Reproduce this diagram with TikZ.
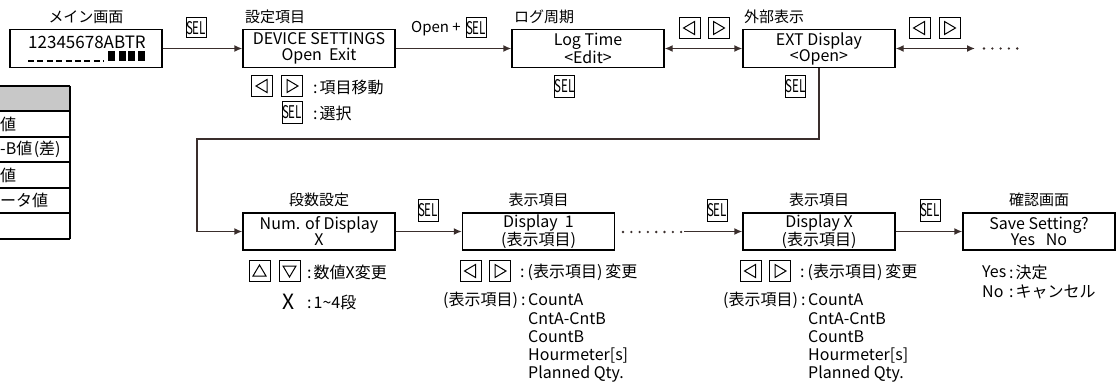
\documentclass[tikz,border=0pt]{standalone}
\usepackage{fontspec}
\setmainfont{Noto Sans CJK JP}
\usetikzlibrary{arrows.meta}
\definecolor{lc}{HTML}{3A2E2C}
\definecolor{hdr}{HTML}{C8C8C8}
\newcommand\fs[1]{\fontsize{#1}{#1}\selectfont}
\newcommand\sel{\scalebox{0.66}[1]{SEL}}
\newcommand\cl{:\kern2pt}
\newcommand\hyo{\kern3pt(表示項目)\kern3pt}
\tikzset{
  scr/.style={draw, line width=1.4pt, minimum width=152pt, minimum height=38pt, inner sep=0pt, align=center, font=\fs{16}},
  scrl/.style={scr, minimum height=37pt},
  ttl/.style={font=\fs{15}, inner sep=0pt},
  conn/.style={line width=1.4pt, draw=lc, -{Latex[length=8pt,width=7pt]}},
  dconn/.style={line width=1.4pt, draw=lc, {Latex[length=8pt,width=7pt]}-{Latex[length=8pt,width=7pt]}},
  selbox/.style={draw, line width=1pt, minimum width=20pt, minimum height=20pt, inner sep=0pt, font=\fs{17.5}},
  btn/.style={draw, line width=1pt, minimum width=21pt, minimum height=21pt, inner sep=0pt},
  note/.style={font=\fs{16}, inner sep=0pt, anchor=west},
  lat/.style={font=\fs{16}, inner sep=0pt, anchor=west},
  tri/.style={line width=1pt, line join=miter},
  dots/.style={line width=2.6pt, line cap=round, dash pattern=on 0pt off 8.3pt, draw=lc},
}
\newcommand\btnL[3]{\node[btn] (#1) at (#2,#3) {};
  \draw[tri] ([shift={(-6,0)}]#1.center) -- ++(11,-6.5) -- ++(0,13) -- cycle;}
\newcommand\btnR[3]{\node[btn] (#1) at (#2,#3) {};
  \draw[tri] ([shift={(6,0)}]#1.center) -- ++(-11,-6.5) -- ++(0,13) -- cycle;}
\newcommand\btnU[3]{\node[btn] (#1) at (#2,#3) {};
  \draw[tri] ([shift={(0,-6)}]#1.center) -- ++(-6.5,11) -- ++(13,0) -- cycle;}
\newcommand\btnD[3]{\node[btn] (#1) at (#2,#3) {};
  \draw[tri] ([shift={(0,6)}]#1.center) -- ++(-6.5,-11) -- ++(13,0) -- cycle;}
\begin{document}
\begin{tikzpicture}[x=1pt,y=-1pt]
\useasboundingbox (0,0) rectangle (1120,385);
% ---------- left table (cut off) ----------
\fill[hdr] (0,86) rectangle (70,111);
\foreach \yy in {86,111,137,162,188,213,239} \draw[line width=1.3pt] (0,\yy) -- (70,\yy);
\draw[line width=1.3pt] (70,86) -- (70,239);
\node[note] (t1) at (0,124) {値};
\node[note] (t2) at (0,149.5) {-B値\kern1.5pt(差)};
\node[note] (t3) at (0,175) {値};
\node[note] (t4) at (0,200.5) {ータ値};
% ---------- top row ----------
\node[scr] (main) at (86,48.5) {};
\node[ttl] (tmain) at (86,17) {メイン画面};
\node[font=\fs{17}, inner sep=0pt] (digits) at (87,42) {12345678ABTR};
\draw[line width=2pt, dash pattern=on 6pt off 3.4pt] (28,61) -- (104,61);
\foreach \xx in {108,118.5,128,137.5} \fill (\xx,51) rectangle ++(7,10);

\node[scr] (set) at (319,48.5) {DEVICE SETTINGS\\Open\ \ Exit};
\node[ttl, anchor=west] (tset) at (245,17) {設定項目};

\node[scr] (log) at (588,48.5) {Log Time\\{<}Edit{>}};
\node[ttl, anchor=west] (tlog) at (514,17) {ログ周期};

\node[scr] (ext) at (819,48.5) {EXT Display\\{<}Open{>}};
\node[ttl, anchor=west] (text) at (744,17) {外部表示};

\draw[conn] (main) -- (set);
\node[selbox] (s1) at (196,28) {\sel};
\draw[conn] (set) -- (log);
\node[font=\fs{15}, inner sep=0pt] (op) at (436,29) {Open +};
\node[selbox] (s2) at (476,28) {\sel};
\draw[dconn] (log) -- (ext);
\btnL{b1}{689.5}{28}\btnR{b2}{718.5}{28}
\coordinate (e1) at (975,48.5);
\draw[dconn] (ext) -- (e1);
\btnL{b3}{919.5}{28}\btnR{b4}{949.5}{28}
\draw[dots] (984,48.5) -- (1020,48.5);

\btnL{b5}{262}{86}\btnR{b6}{292}{86}
\node[note] (n1) at (313,87) {\cl 項目移動};
\node[selbox, minimum height=22pt] (s3) at (292,112.5) {\sel};
\node[note] (n2) at (313,113) {\cl 選択};
\node[selbox, minimum height=22pt] (s4) at (564.5,86.5) {\sel};
\node[selbox, minimum height=22pt] (s5) at (795.5,86.5) {\sel};

% ---------- bottom row ----------
\node[scrl] (num) at (319,231.5) {Num. of Display\\X};
\node[ttl] (tnum) at (319,200) {段数設定};
\node[scrl] (d1) at (538.5,231.5) {Display\ \ 1\\(表示項目)};
\node[ttl] (td1) at (538.5,200) {表示項目};
\node[scrl] (dx) at (819,231.5) {Display X\\(表示項目)};
\node[ttl] (tdx) at (819,200) {表示項目};
\node[scrl] (sv) at (1039,231.5) {Save Setting?\\Yes\ \ \ No};
\node[ttl] (tsv) at (1039,200) {確認画面};

\coordinate (k1) at (819,139);
\coordinate (k2) at (197,139);
\coordinate (k3) at (197,231.5);
\draw[line width=1.4pt, draw=lc] (ext.south) -- (k1) -- (k2) -- (k3);
\draw[conn] (k3) -- (num);
\draw[conn] (num) -- (d1);
\node[selbox, minimum height=22pt] (s6) at (428,210.5) {\sel};
\draw[dots] (623,232) -- (681.2,232);
\coordinate (c1) at (684,231.5);
\draw[conn] (c1) -- (dx);
\node[selbox, minimum height=22pt] (s7) at (717,210.5) {\sel};
\draw[conn] (dx) -- (sv);
\node[selbox, minimum height=22pt] (s8) at (930,210.5) {\sel};

% notes under Num
\btnU{b7}{259.5}{271}\btnD{b8}{289.5}{271}
\node[note] (n3) at (307,272) {\cl 数値X変更};
\node[font=\fs{21}, inner sep=0pt] (bx) at (289,302) {X};
\node[note] (n4) at (307,302) {\cl 1\textasciitilde4段};

% notes under Display 1
\btnL{b9}{470.5}{271}\btnR{b10}{500}{271}
\node[note] (n5) at (520,272) {:\hyo 変更};
\node[note] (n6) at (440,300) {\hyo:};
\node[lat] (l1) at (528,300) {CountA};
\node[lat] (l2) at (528,318.5) {CntA-CntB};
\node[lat] (l3) at (528,337) {CountB};
\node[lat] (l4) at (528,355.5) {Hourmeter[s]};
\node[lat] (l5) at (528,374) {Planned Qty.};

% notes under Display X
\btnL{b11}{750.5}{271}\btnR{b12}{780}{271}
\node[note] (n7) at (800,272) {:\hyo 変更};
\node[note] (n8) at (720,300) {\hyo:};
\node[lat] (m1) at (808,300) {CountA};
\node[lat] (m2) at (808,318.5) {CntA-CntB};
\node[lat] (m3) at (808,337) {CountB};
\node[lat] (m4) at (808,355.5) {Hourmeter[s]};
\node[lat] (m5) at (808,374) {Planned Qty.};

% Yes / No
\node[lat] (y1) at (982,272) {Yes};
\node[note] (y2) at (1009,272) {\cl 決定};
\node[lat] (y3) at (982,292) {No};
\node[note] (y4) at (1009,292) {\cl キャンセル};
\end{tikzpicture}
\end{document}
